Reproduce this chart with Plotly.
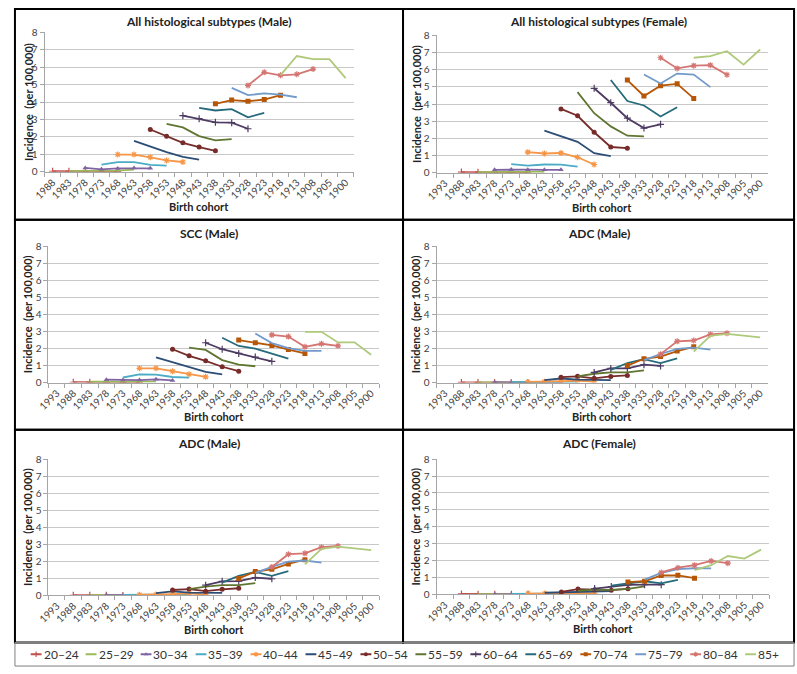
import plotly.graph_objects as go

# ---------------- data ----------------
cohorts_panel1 = ["1988", "1983", "1978", "1973", "1968", "1963", "1958", "1953", "1948", "1943",
                  "1938", "1933", "1928", "1923", "1918", "1913", "1908", "1905", "1900"]
cohorts = ["1993"] + cohorts_panel1

age_groups = ["20–24", "25–29", "30–34", "35–39", "40–44", "45–49", "50–54",
              "55–59", "60–64", "65–69", "70–74", "75–79", "80–84", "85+"]
first_cohort = ["1988", "1983", "1978", "1973", "1968", "1963", "1958",
                "1953", "1948", "1943", "1938", "1933", "1928", "1918"]

all_male = [
    [0.03, 0.03, 0.02, 0.03, 0.02],
    [0.04, 0.05, 0.06, 0.06, 0.12],
    [0.22, 0.14, 0.19, 0.21, 0.20],
    [0.41, 0.55, 0.55, 0.39, 0.35],
    [0.99, 0.99, 0.83, 0.65, 0.56],
    [1.78, 1.45, 1.13, 0.85, 0.70],
    [2.43, 2.04, 1.66, 1.42, 1.20],
    [2.75, 2.55, 2.05, 1.80, 1.88],
    [3.22, 3.05, 2.84, 2.82, 2.47],
    [3.67, 3.52, 3.60, 3.13, 3.38],
    [3.90, 4.12, 4.05, 4.15, 4.40],
    [4.82, 4.40, 4.50, 4.43, 4.28],
    [4.96, 5.71, 5.54, 5.60, 5.90],
    [5.55, 6.65, 6.47, 6.47, 5.38],
]
all_female = [
    [0.04, 0.03, 0.03, 0.02, 0.02],
    [0.04, 0.05, 0.05, 0.04, 0.05],
    [0.17, 0.19, 0.18, 0.17, 0.17],
    [0.50, 0.42, 0.48, 0.47, 0.35],
    [1.20, 1.12, 1.15, 0.90, 0.48],
    [2.45, 2.13, 1.80, 1.14, 0.97],
    [3.72, 3.32, 2.36, 1.50, 1.43],
    [4.70, 3.47, 2.70, 2.16, 2.12],
    [4.92, 4.08, 3.18, 2.60, 2.82],
    [5.40, 4.18, 3.92, 3.28, 3.82],
    [5.40, 4.47, 5.07, 5.18, 4.33],
    [5.72, 5.20, 5.78, 5.72, 4.99],
    [6.70, 6.08, 6.24, 6.27, 5.71],
    [6.70, 6.80, 7.08, 6.30, 7.18],
]
scc_male = [
    [0.02, 0.02, 0.02, 0.01, 0.01],
    [0.05, 0.05, 0.04, 0.05, 0.06],
    [0.17, 0.15, 0.15, 0.19, 0.13],
    [0.30, 0.48, 0.47, 0.33, 0.29],
    [0.84, 0.84, 0.67, 0.49, 0.34],
    [1.48, 1.20, 0.90, 0.63, 0.48],
    [1.96, 1.57, 1.28, 0.93, 0.67],
    [2.05, 1.92, 1.32, 1.06, 0.96],
    [2.34, 1.96, 1.71, 1.50, 1.25],
    [2.63, 2.15, 2.00, 1.72, 1.41],
    [2.50, 2.34, 2.18, 1.94, 1.71],
    [2.88, 2.32, 2.02, 1.86, 1.86],
    [2.80, 2.70, 2.10, 2.28, 2.16],
    [2.98, 2.98, 2.36, 2.36, 1.63],
]
adc_male = [
    [0.01, 0.01, 0.01, 0.00, 0.00],
    [0.01, 0.01, 0.01, 0.01, 0.01],
    [0.02, 0.00, 0.01, 0.01, 0.00],
    [0.03, 0.05, 0.04, 0.03, 0.05],
    [0.04, 0.05, 0.08, 0.12, 0.05],
    [0.14, 0.24, 0.17, 0.15, 0.15],
    [0.32, 0.37, 0.25, 0.36, 0.42],
    [0.37, 0.52, 0.60, 0.60, 0.72],
    [0.60, 0.83, 0.84, 1.05, 0.98],
    [0.75, 1.15, 1.38, 1.15, 1.42],
    [1.00, 1.40, 1.53, 1.85, 2.10],
    [1.32, 1.68, 1.98, 2.05, 1.93],
    [1.67, 2.42, 2.47, 2.83, 2.90],
    [1.82, 2.74, 2.86, 2.76, 2.66],
]
adc_female = [
    [0.03, 0.01, 0.01, 0.01, 0.01],
    [0.02, 0.02, 0.02, 0.02, 0.02],
    [0.01, 0.01, 0.01, 0.02, 0.00],
    [0.03, 0.05, 0.04, 0.03, 0.03],
    [0.05, 0.05, 0.06, 0.06, 0.07],
    [0.10, 0.12, 0.15, 0.19, 0.20],
    [0.15, 0.32, 0.28, 0.25, 0.33],
    [0.22, 0.29, 0.27, 0.33, 0.48],
    [0.35, 0.47, 0.57, 0.58, 0.58],
    [0.52, 0.65, 0.78, 0.66, 0.86],
    [0.73, 0.78, 1.12, 1.13, 0.96],
    [0.88, 1.27, 1.50, 1.55, 1.54],
    [1.30, 1.58, 1.73, 1.98, 1.85],
    [1.44, 1.73, 2.27, 2.12, 2.65],
]

panel_titles = ["All histological subtypes (Male)", "All histological subtypes (Female)",
                "SCC (Male)", "ADC (Male)", "ADC (Male)", "ADC (Female)"]
y_ticks = [0, 1, 2, 3, 4, 5, 6, 7, 8]

# ---------------- styles ----------------
colors = ["#C0504D", "#9BBB59", "#8064A2", "#4BACC6", "#F79646", "#2C4D75", "#772C2A",
          "#5F7530", "#4D3B62", "#276A7C", "#B65708", "#729ACA", "#D57572", "#AFC97A"]
symbols = ["cross-thin", None, "triangle-up", None, "asterisk", None, "circle",
           None, "cross-thin", None, "square", None, "asterisk", None]
sizes = [5, 0, 5, 0, 5, 0, 5, 0, 5, 0, 5, 0, 5, 0]

W, H = 797, 674
FONT = "Lato, 'Open Sans', sans-serif"


def px(x):
    return x / W


def py(y):
    return 1 - y / H


# plot-area pixel boxes: (x0, x1, ytop, ybottom)
areas = [
    (33, 347, 26, 168),
    (431, 768, 29, 169),
    (37, 373, 244, 383),
    (431, 768, 244, 383),
    (37, 373, 461, 600),
    (431, 769, 461, 599),
]
col_edges = [(3, 397), (397, 794)]
row_edges = [(2, 217), (217, 431), (431, 648)]

fig = go.Figure()
datasets = [all_male, all_female, scc_male, adc_male, adc_male, adc_female]
layout_axes = {}
annotations = []
shapes = []

for p, data in enumerate(datasets):
    cats = cohorts_panel1 if p == 0 else cohorts
    xa = "x" if p == 0 else f"x{p + 1}"
    ya = "y" if p == 0 else f"y{p + 1}"
    for k, vals in enumerate(data):
        start = cats.index(first_cohort[k])
        xs = cats[start:start + len(vals)]
        marker = dict(color=colors[k], size=sizes[k])
        if symbols[k] is not None:
            marker["symbol"] = symbols[k]
            if symbols[k] in ("cross-thin", "asterisk"):
                marker["line"] = dict(color=colors[k], width=1.2)
        fig.add_trace(go.Scatter(
            x=xs, y=vals, mode="lines+markers" if symbols[k] else "lines",
            line=dict(color=colors[k], width=1.8), marker=marker,
            name=age_groups[k], showlegend=False, xaxis=xa, yaxis=ya,
            hoverinfo="x+y+name"))
    x0, x1, yt, yb = areas[p]
    sfx = "" if p == 0 else str(p + 1)
    layout_axes["xaxis" + sfx] = dict(
        domain=[px(x0), px(x1)], anchor=ya, type="category",
        categoryorder="array", categoryarray=cats, range=[-0.5, len(cats) - 0.5],
        tickangle=-45, tickfont=dict(size=10, color="#404040", family=FONT),
        showline=True, linecolor="#A6A6A6", linewidth=1, ticks="outside",
        tickson="boundaries", ticklen=4, tickcolor="#A6A6A6", showgrid=False,
        zeroline=False, fixedrange=True)
    layout_axes["yaxis" + sfx] = dict(
        domain=[py(yb), py(yt)], anchor=xa, range=[0, 8], tickvals=y_ticks,
        tickfont=dict(size=10, color="#404040", family=FONT),
        showline=True, linecolor="#A6A6A6", linewidth=1, ticks="outside",
        ticklen=4, tickcolor="#A6A6A6", showgrid=True, gridcolor="#C8C8C8",
        gridwidth=1, zeroline=False, fixedrange=True)

    col = p % 2
    row = p // 2
    bx0, bx1 = col_edges[col]
    by0, by1 = row_edges[row]
    shapes.append(dict(type="rect", xref="paper", yref="paper",
                       x0=px(bx0), x1=px(bx1), y0=py(by1), y1=py(by0),
                       line=dict(color="black", width=2), fillcolor="rgba(0,0,0,0)"))
    title_y = by0 + (13 if row == 0 else 14)
    annotations.append(dict(text=f"<b>{panel_titles[p]}</b>", xref="paper", yref="paper",
                            x=px((bx0 + bx1) / 2), y=py(title_y), showarrow=False,
                            xanchor="center", yanchor="middle",
                            font=dict(size=12, color="#222", family=FONT)))
    annotations.append(dict(text="<b>Birth cohort</b>", xref="paper", yref="paper",
                            x=px((x0 + x1) / 2), y=py(yb + 35), showarrow=False,
                            xanchor="center", yanchor="middle",
                            font=dict(size=11, color="#222", family=FONT)))
    annotations.append(dict(text="<b>Incidence  (per 100,000)</b>", xref="paper", yref="paper",
                            x=px(bx0 + 13), y=py((yt + yb) / 2), showarrow=False,
                            textangle=-90, xanchor="center", yanchor="middle",
                            font=dict(size=11, color="#222", family=FONT)))

# ---------------- manual legend ----------------
leg_x0, leg_pitch = 19, 55.8
layout_axes["xaxis7"] = dict(domain=[0, 1], range=[0, W], visible=False, fixedrange=True,
                             anchor="y7")
layout_axes["yaxis7"] = dict(domain=[py(672), py(648)], range=[0, 1], visible=False,
                             fixedrange=True, anchor="x7")
for k, grp in enumerate(age_groups):
    sx = leg_x0 + leg_pitch * k
    fig.add_trace(go.Scatter(x=[sx, sx + 11], y=[0.5, 0.5], mode="lines",
                             line=dict(color=colors[k], width=1.8), showlegend=False,
                             xaxis="x7", yaxis="y7", hoverinfo="skip"))
    if symbols[k]:
        m = dict(color=colors[k], size=4, symbol=symbols[k])
        if symbols[k] in ("cross-thin", "asterisk"):
            m["line"] = dict(color=colors[k], width=1.1)
        fig.add_trace(go.Scatter(x=[sx + 5.5], y=[0.5], mode="markers", marker=m,
                                 showlegend=False, xaxis="x7", yaxis="y7", hoverinfo="skip"))
    annotations.append(dict(text=grp, xref="x7", yref="y7", x=sx + 11, y=0.5,
                            showarrow=False, xanchor="left", yanchor="middle",
                            font=dict(size=12, color="#333", family=FONT)))
shapes.append(dict(type="rect", xref="paper", yref="paper", x0=px(3), x1=px(794),
                   y0=py(672), y1=py(648), line=dict(color="#7F7F7F", width=1)))

fig.update_layout(
    width=W, height=H, margin=dict(l=0, r=0, t=0, b=0),
    paper_bgcolor="white", plot_bgcolor="white",
    font=dict(family=FONT), showlegend=False,
    annotations=annotations, shapes=shapes, **layout_axes)

fig.write_html("out.html", config={"displayModeBar": False},
               post_script="document.body.style.margin='0';")
